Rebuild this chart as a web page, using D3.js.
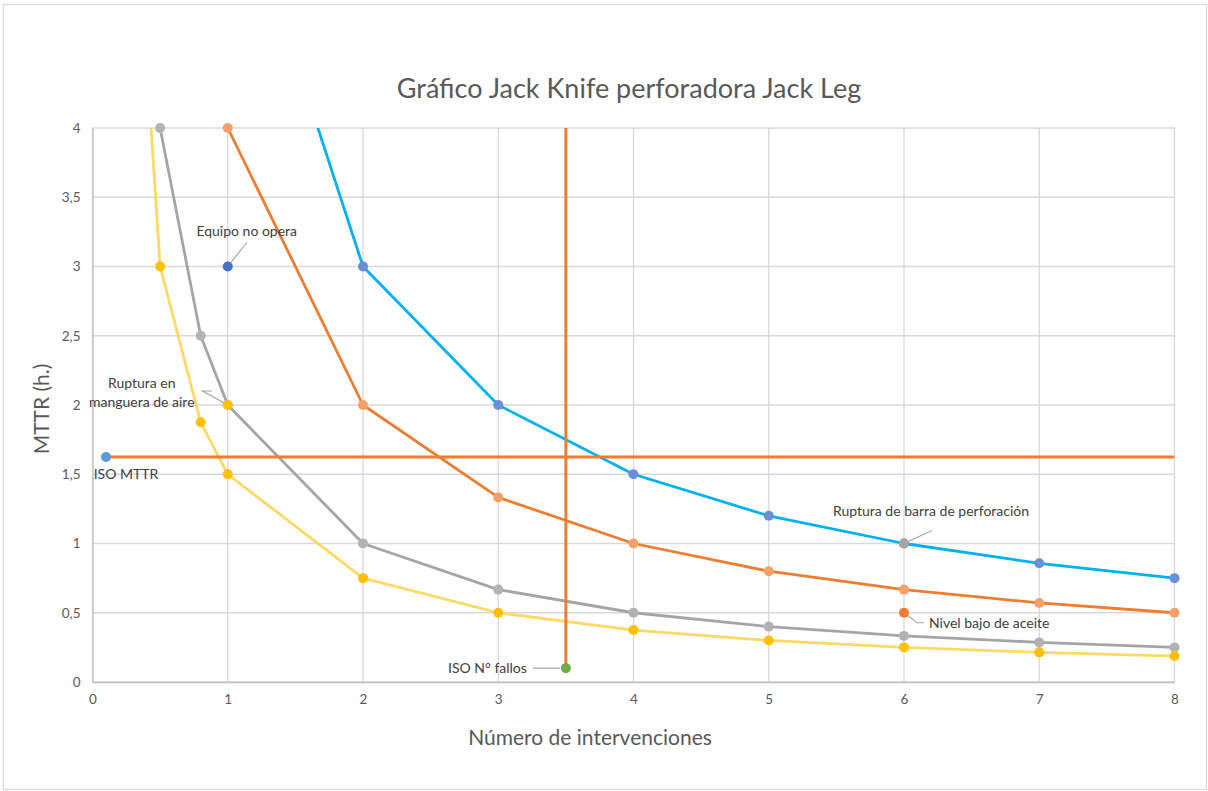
<!DOCTYPE html>
<html>
<head>
<meta charset="utf-8">
<script src="https://cdn.jsdelivr.net/npm/d3@7"></script>
<style>
  html, body { margin: 0; padding: 0; background: #fff; }
  svg { display: block; font-family: Lato, "Open Sans", sans-serif; }
</style>
</head>
<body>
<svg id="chart" width="1208" height="791"></svg>
<script>
// Curves of the Jack Knife diagram (MTTR = constant / N° interventions)
const xBlue   = [1, 2, 3, 4, 5, 6, 7, 8];
const yBlue   = [6, 3, 2, 1.5, 1.2, 1, 0.857, 0.75];
const xOrange = [1, 2, 3, 4, 5, 6, 7, 8];
const yOrange = [4, 2, 1.333, 1, 0.8, 0.667, 0.571, 0.5];
const xGray   = [0.5, 0.8, 1, 2, 3, 4, 5, 6, 7, 8];
const yGray   = [4, 2.5, 2, 1, 0.667, 0.5, 0.4, 0.333, 0.286, 0.25];
const xYellow = [0.2, 0.5, 0.8, 1, 2, 3, 4, 5, 6, 7, 8];
const yYellow = [7.5, 3, 1.875, 1.5, 0.75, 0.5, 0.375, 0.3, 0.25, 0.214, 0.1875];

// Failure modes plotted as single points
const failureNames = ["Equipo no opera", "Ruptura en manguera de aire", "Ruptura de barra de perforación", "Nivel bajo de aceite"];
const failureX = [1, 1, 6, 6];
const failureY = [3, 2, 1, 0.5];

// ISO reference limits
const isoMttrX = [0.1, 8];
const isoMttrY = [1.625, 1.625];
const isoFallosX = [3.5, 3.5];
const isoFallosY = [0.1, 4];

// Axis ticks
const xTicks = [0, 1, 2, 3, 4, 5, 6, 7, 8];
const yTicks = [0, 0.5, 1, 1.5, 2, 2.5, 3, 3.5, 4];

const svg = d3.select("#chart");
const W = 1208, H = 791;
const m = { left: 92.5, right: 1174.5, top: 128, bottom: 682 };

const x = d3.scaleLinear().domain([0, 8]).range([m.left, m.right]);
const y = d3.scaleLinear().domain([0, 4]).range([m.bottom, m.top]);

// chart frame
svg.append("rect").attr("x", 3.5).attr("y", 4.5).attr("width", W - 5).attr("height", H - 6)
  .attr("fill", "#fff").attr("stroke", "#d9d9d9").attr("stroke-width", 1.3);

// title
svg.append("text").attr("x", 629).attr("y", 98).attr("text-anchor", "middle")
  .attr("font-size", 27).attr("fill", "#595959").text("Gráfico Jack Knife perforadora Jack Leg");

// gridlines
const grid = svg.append("g");
grid.selectAll("line.h").data(yTicks).join("line")
  .attr("x1", m.left).attr("x2", m.right)
  .attr("y1", d => y(d)).attr("y2", d => y(d))
  .attr("stroke", "#d9d9d9").attr("stroke-width", 1.3);
grid.selectAll("line.v").data(xTicks).join("line")
  .attr("y1", m.top).attr("y2", m.bottom)
  .attr("x1", d => x(d)).attr("x2", d => x(d))
  .attr("stroke", "#d9d9d9").attr("stroke-width", 1.3);

// axes
const xAxis = svg.append("g").attr("transform", `translate(0,${m.bottom})`)
  .call(d3.axisBottom(x).tickValues(xTicks).tickSize(0).tickPadding(12).tickFormat(d3.format("d")));
const yAxis = svg.append("g").attr("transform", `translate(${m.left},0)`)
  .call(d3.axisLeft(y).tickValues(yTicks).tickSize(0).tickPadding(12)
    .tickFormat(d => String(d).replace(".", ",")));
[xAxis, yAxis].forEach(a => {
  a.select(".domain").attr("stroke", "#bfbfbf").attr("stroke-width", 1.3);
  a.selectAll("text").attr("font-family", "Lato, sans-serif").attr("font-size", 13.5).attr("fill", "#595959");
});

// axis titles
svg.append("text").attr("x", 590).attr("y", 745).attr("text-anchor", "middle")
  .attr("font-size", 21).attr("fill", "#595959").text("Número de intervenciones");
svg.append("text").attr("transform", "translate(49,409) rotate(-90)").attr("text-anchor", "middle")
  .attr("font-size", 21).attr("fill", "#595959").text("MTTR (h.)");

// clip lines to the plot area
svg.append("defs").append("clipPath").attr("id", "plot")
  .append("rect").attr("x", m.left).attr("y", m.top)
  .attr("width", m.right - m.left).attr("height", m.bottom - m.top);

const line = d3.line().x(d => x(d[0])).y(d => y(d[1]));
const zip = (xs, ys) => xs.map((v, i) => [v, ys[i]]);

const curves = [
  { pts: zip(xBlue, yBlue),     stroke: "#00b0f0", marker: "#6b8fd6" },
  { pts: zip(xOrange, yOrange), stroke: "#ed7d31", marker: "#f4a06a" },
  { pts: zip(xGray, yGray),     stroke: "#a5a5a5", marker: "#b3b3b3" },
  { pts: zip(xYellow, yYellow), stroke: "#ffd966", marker: "#ffc000" }
];

const linesG = svg.append("g").attr("clip-path", "url(#plot)");
curves.forEach(c => {
  linesG.append("path").datum(c.pts).attr("d", line)
    .attr("fill", "none").attr("stroke", c.stroke).attr("stroke-width", 2.8)
    .attr("stroke-linejoin", "round");
});

// ISO reference lines
linesG.append("path").datum(zip(isoMttrX, isoMttrY)).attr("d", line)
  .attr("fill", "none").attr("stroke", "#ed7d31").attr("stroke-width", 3);
linesG.append("path").datum(zip(isoFallosX, isoFallosY)).attr("d", line)
  .attr("fill", "none").attr("stroke", "#ed7d31").attr("stroke-width", 3);

// curve markers (only those inside the value range)
const markG = svg.append("g");
curves.forEach(c => {
  markG.selectAll(null).data(c.pts.filter(p => p[1] <= 4)).join("circle")
    .attr("cx", d => x(d[0])).attr("cy", d => y(d[1])).attr("r", 5)
    .attr("fill", c.marker);
});

// leader lines
const leaderG = svg.append("g").attr("fill", "none").attr("stroke", "#a6a6a6").attr("stroke-width", 1.2);

// single points with data labels
const pointColors = ["#4472c4", "#ffc000", "#a5a5a5", "#ed7d31"];
const labelLayout = [
  { lines: [{ dx: 19, dy: -31 }], anchor: "middle", leader: [[19, -24]] },
  { lines: [{ dx: -86, dy: -17 }, { dx: -86, dy: 2 }], anchor: "middle", leader: [[-25, -14], [-16, -14]] },
  { lines: [{ dx: 27, dy: -28 }], anchor: "middle", leader: [[28, -13]] },
  { lines: [{ dx: 25, dy: 15 }], anchor: "start", leader: [[13, 10], [20, 10]] }
];
const labelText = [["Equipo no opera"], ["Ruptura en", "manguera de aire"], ["Ruptura de barra de perforación"], ["Nivel bajo de aceite"]];

failureNames.forEach((name, i) => {
  const px = x(failureX[i]), py = y(failureY[i]);
  const lay = labelLayout[i];
  const path = d3.path();
  path.moveTo(px, py);
  lay.leader.forEach(p => path.lineTo(px + p[0], py + p[1]));
  leaderG.append("path").attr("d", path.toString());
  lay.lines.forEach((l, j) => {
    svg.append("text").attr("x", px + l.dx).attr("y", py + l.dy)
      .attr("text-anchor", lay.anchor).attr("font-size", 14).attr("fill", "#404040")
      .text(labelText[i][j]);
  });
});

// ISO point markers and labels
const isoPts = [
  { name: "ISO MTTR", px: x(isoMttrX[0]), py: y(isoMttrY[0]), color: "#5b9bd5" },
  { name: "ISO N° fallos", px: x(isoFallosX[0]), py: y(isoFallosY[0]), color: "#70ad47" }
];
svg.append("text").attr("x", isoPts[0].px + 20).attr("y", isoPts[0].py + 22)
  .attr("text-anchor", "middle").attr("font-size", 14).attr("fill", "#404040").text(isoPts[0].name);
svg.append("text").attr("x", isoPts[1].px - 39).attr("y", isoPts[1].py + 5)
  .attr("text-anchor", "end").attr("font-size", 14).attr("fill", "#404040").text(isoPts[1].name);
leaderG.append("line").attr("x1", isoPts[1].px - 33).attr("x2", isoPts[1].px - 6)
  .attr("y1", isoPts[1].py).attr("y2", isoPts[1].py);

const dotG = svg.append("g");
failureNames.forEach((n, i) => {
  dotG.append("circle").attr("cx", x(failureX[i])).attr("cy", y(failureY[i])).attr("r", 5).attr("fill", pointColors[i]);
});
isoPts.forEach(p => {
  dotG.append("circle").attr("cx", p.px).attr("cy", p.py).attr("r", 5).attr("fill", p.color);
});
</script>
</body>
</html>
